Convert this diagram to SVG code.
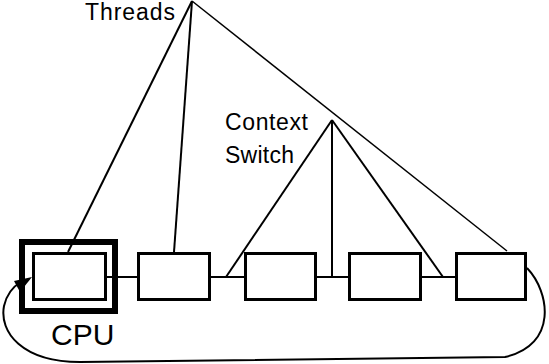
<svg xmlns="http://www.w3.org/2000/svg" width="549" height="364" viewBox="0 0 549 364">
<style>
.box{fill:#fff;stroke:#000;stroke-width:3}
.ln{fill:none;stroke:#000;stroke-width:2}
.lbl{font-family:"Liberation Sans",Arial,sans-serif;fill:#000}
</style>
<rect width="549" height="364" fill="#fff"/>
<g id="connectors">
<line class="ln" x1="107" y1="277" x2="137" y2="277"/>
<line class="ln" x1="211" y1="277" x2="244" y2="277"/>
<line class="ln" x1="317" y1="277" x2="348" y2="277"/>
<line class="ln" x1="422" y1="277" x2="455" y2="277"/>
<line class="ln" x1="192" y1="1" x2="68" y2="252"/>
<line class="ln" x1="192" y1="1" x2="174" y2="252"/>
<line class="ln" x1="192" y1="1" x2="507" y2="251" style="stroke-width:1.5"/>
<line class="ln" x1="332" y1="120" x2="226" y2="277"/>
<line class="ln" x1="332" y1="120" x2="332" y2="277"/>
<line class="ln" x1="332" y1="120" x2="443" y2="277"/>
<path class="ln" d="M527,268 C550,292 558,345 505,357 L80,362 C22,362 -1,332 4,306 C7,293 14,286 21,282"/>
<path d="M32,277 L14,281 L20,292 z" fill="#000"/>
</g>
<g id="cpu">
<rect x="22" y="242" width="93" height="69" fill="none" stroke="#000" stroke-width="6"/>
<rect class="box" x="33.5" y="253.5" width="72" height="46"/>
<text class="lbl" x="51" y="345" font-size="30">CPU</text>
</g>
<g id="thread2"><rect class="box" x="138.5" y="253.5" width="71" height="46"/></g>
<g id="thread3"><rect class="box" x="245.5" y="253.5" width="70" height="46"/></g>
<g id="thread4"><rect class="box" x="349.5" y="253.5" width="71" height="46"/></g>
<g id="thread5"><rect class="box" x="456.5" y="253.5" width="69" height="46"/></g>
<g id="threads-label"><text class="lbl" x="85" y="20" font-size="23" textLength="90">Threads</text></g>
<g id="context-label">
<text class="lbl" x="225" y="130" font-size="23" textLength="83">Context</text>
<text class="lbl" x="225" y="163" font-size="23" textLength="69">Switch</text>
</g>
</svg>
